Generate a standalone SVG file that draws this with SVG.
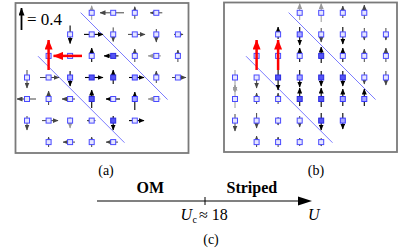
<svg xmlns="http://www.w3.org/2000/svg" width="415" height="249" viewBox="0 0 415 249">
<style>
.frame{fill:none;stroke:#7a7a7a;stroke-width:1.8}
.dl{stroke:#5a5aff;stroke-width:0.8}
.k{stroke:#000;stroke-width:1.1;marker-end:url(#hk)}
.d{stroke:#454545;stroke-width:1;marker-end:url(#hd)}
.g{stroke:#9a9a9a;stroke-width:1;marker-end:url(#hg)}
.r{stroke:#ff0000;stroke-width:2.5;marker-end:url(#hr)}
.s{fill:#e6e6ff;stroke:#4a4aff;stroke-width:1}
.m{fill:#a8a8ff;stroke:#3838ff;stroke-width:1}
.x{fill:#5555f5;stroke:#2a2ae0;stroke-width:1}
text{font-family:"Liberation Serif","Times New Roman",serif;fill:#000}
</style>
<defs>
<marker id="hk" markerUnits="userSpaceOnUse" markerWidth="6" markerHeight="5" viewBox="0 0 6 5" refX="5.5" refY="2.5" orient="auto"><path d="M0,0 L6,2.5 L0,5 z" fill="#000"/></marker>
<marker id="hd" markerUnits="userSpaceOnUse" markerWidth="6" markerHeight="5" viewBox="0 0 6 5" refX="5.5" refY="2.5" orient="auto"><path d="M0,0 L6,2.5 L0,5 z" fill="#454545"/></marker>
<marker id="hg" markerUnits="userSpaceOnUse" markerWidth="6" markerHeight="5" viewBox="0 0 6 5" refX="5.5" refY="2.5" orient="auto"><path d="M0,0 L6,2.5 L0,5 z" fill="#9a9a9a"/></marker>
<marker id="hr" markerUnits="userSpaceOnUse" markerWidth="10" markerHeight="8" viewBox="0 0 10 8" refX="9.5" refY="4" orient="auto"><path d="M0,0 L10,4 L0,8 z" fill="#ff0000"/></marker>
<marker id="hl" markerUnits="userSpaceOnUse" markerWidth="8" markerHeight="6" viewBox="0 0 8 6" refX="7.5" refY="3" orient="auto"><path d="M0,0 L8,3 L0,6 z" fill="#000"/></marker>
</defs>

<g id="panel-a">
<rect class="frame" x="15.5" y="3" width="173" height="150"/>
<g id="legend-a">
<line x1="21.5" y1="30" x2="21.5" y2="8" stroke="#000" stroke-width="1.8" marker-end="url(#hl)"/>
<text x="27" y="25" font-size="17">= 0.4</text>
</g>
<g id="lines-a">
<line class="dl" x1="80.6" y1="12.6" x2="167.6" y2="99.6"/>
<line class="dl" x1="38" y1="56.2" x2="124.5" y2="142.7"/>
</g>
<g id="arrows-a">
<line class="g" x1="91.7" y1="19.8" x2="91.7" y2="5.8"/>
<line class="d" x1="124" y1="12.8" x2="100" y2="12.8"/>
<line class="d" x1="134.8" y1="18.8" x2="134.8" y2="6.8"/>
<line class="d" x1="162.3" y1="12.8" x2="150.3" y2="12.8"/>
<line class="k" x1="70.1" y1="25.4" x2="70.1" y2="43.4"/>
<line class="k" x1="84" y1="34.4" x2="103" y2="34.4"/>
<line class="d" x1="113.2" y1="27.4" x2="113.2" y2="41.4"/>
<line class="d" x1="128" y1="34.4" x2="145" y2="34.4"/>
<line class="d" x1="156.3" y1="29" x2="156.3" y2="42"/>
<line class="d" x1="174" y1="34.4" x2="183" y2="34.4"/>
<line class="k" x1="91.7" y1="62" x2="91.7" y2="48"/>
<line class="k" x1="118.5" y1="55.9" x2="104" y2="55.9"/>
<line class="d" x1="134.8" y1="62" x2="134.8" y2="49"/>
<line class="g" x1="161" y1="55.9" x2="148" y2="55.9"/>
<line class="d" x1="177.9" y1="62" x2="177.9" y2="50"/>
<line class="d" x1="27" y1="70" x2="27" y2="88"/>
<line class="d" x1="40" y1="77.5" x2="59" y2="77.5"/>
<line class="k" x1="70.1" y1="71" x2="70.1" y2="86"/>
<line class="k" x1="85" y1="77.5" x2="103" y2="77.5"/>
<line class="k" x1="113.2" y1="84" x2="113.2" y2="70"/>
<line class="k" x1="129" y1="77.5" x2="144" y2="77.5"/>
<line class="d" x1="156.3" y1="83" x2="156.3" y2="71"/>
<line class="d" x1="172" y1="77.5" x2="186" y2="77.5"/>
<line class="d" x1="36" y1="99" x2="17" y2="99"/>
<line class="d" x1="48.6" y1="105" x2="48.6" y2="91"/>
<line class="d" x1="75" y1="99" x2="62" y2="99"/>
<line class="k" x1="91.7" y1="108" x2="91.7" y2="90"/>
<line class="k" x1="120" y1="99" x2="106" y2="99"/>
<line class="k" x1="134.8" y1="110" x2="134.8" y2="92"/>
<line class="g" x1="160.5" y1="99" x2="148" y2="99"/>
<line class="d" x1="27" y1="116" x2="27" y2="130"/>
<line class="d" x1="42" y1="120.6" x2="58" y2="120.6"/>
<line class="g" x1="70.1" y1="117" x2="70.1" y2="128"/>
<line class="d" x1="95.5" y1="120.6" x2="87" y2="120.6"/>
<line class="k" x1="113.2" y1="116" x2="113.2" y2="130"/>
<line class="k" x1="129" y1="120.6" x2="144" y2="120.6"/>
<line class="d" x1="48.6" y1="147" x2="48.6" y2="137"/>
<line class="d" x1="75" y1="142.1" x2="63" y2="142.1"/>
<line class="d" x1="91.7" y1="147" x2="91.7" y2="137"/>
<line class="d" x1="118" y1="142.1" x2="106" y2="142.1"/>
</g>
<g id="sites-a">
<rect class="s" x="89.2" y="10.3" width="5" height="5"/>
<rect class="s" x="110.7" y="10.3" width="5" height="5"/>
<rect class="s" x="132.3" y="10.3" width="5" height="5"/>
<rect class="s" x="153.8" y="10.3" width="5" height="5"/>
<rect class="s" x="67.6" y="31.9" width="5" height="5"/>
<rect class="s" x="89.2" y="31.9" width="5" height="5"/>
<rect class="s" x="110.7" y="31.9" width="5" height="5"/>
<rect class="s" x="132.3" y="31.9" width="5" height="5"/>
<rect class="s" x="153.8" y="31.9" width="5" height="5"/>
<rect class="s" x="175.4" y="31.9" width="5" height="5"/>
<rect class="s" x="46.1" y="53.4" width="5" height="5"/>
<rect class="s" x="67.6" y="53.4" width="5" height="5"/>
<rect class="s" x="89.2" y="53.4" width="5" height="5"/>
<rect class="x" x="110.7" y="53.4" width="5" height="5"/>
<rect class="s" x="132.3" y="53.4" width="5" height="5"/>
<rect class="s" x="153.8" y="53.4" width="5" height="5"/>
<rect class="s" x="175.4" y="53.4" width="5" height="5"/>
<rect class="s" x="24.5" y="75" width="5" height="5"/>
<rect class="s" x="46.1" y="75" width="5" height="5"/>
<rect class="m" x="67.6" y="75" width="5" height="5"/>
<rect class="x" x="89.2" y="75" width="5" height="5"/>
<rect class="x" x="110.7" y="75" width="5" height="5"/>
<rect class="m" x="132.3" y="75" width="5" height="5"/>
<rect class="s" x="153.8" y="75" width="5" height="5"/>
<rect class="s" x="175.4" y="75" width="5" height="5"/>
<rect class="s" x="24.5" y="96.5" width="5" height="5"/>
<rect class="s" x="46.1" y="96.5" width="5" height="5"/>
<rect class="s" x="67.6" y="96.5" width="5" height="5"/>
<rect class="x" x="89.2" y="96.5" width="5" height="5"/>
<rect class="s" x="110.7" y="96.5" width="5" height="5"/>
<rect class="m" x="132.3" y="96.5" width="5" height="5"/>
<rect class="s" x="153.8" y="96.5" width="5" height="5"/>
<rect class="s" x="24.5" y="118.1" width="5" height="5"/>
<rect class="s" x="46.1" y="118.1" width="5" height="5"/>
<rect class="s" x="67.6" y="118.1" width="5" height="5"/>
<rect class="s" x="89.2" y="118.1" width="5" height="5"/>
<rect class="x" x="110.7" y="118.1" width="5" height="5"/>
<rect class="s" x="132.3" y="118.1" width="5" height="5"/>
<rect class="s" x="46.1" y="139.6" width="5" height="5"/>
<rect class="s" x="67.6" y="139.6" width="5" height="5"/>
<rect class="s" x="89.2" y="139.6" width="5" height="5"/>
<rect class="s" x="110.7" y="139.6" width="5" height="5"/>
</g>
<g id="red-a">
<line class="r" x1="48.6" y1="70" x2="48.6" y2="40"/>
<line class="r" x1="82" y1="55.9" x2="53.5" y2="55.9"/>
</g>
<text x="106" y="175" font-size="14" text-anchor="middle">(a)</text>
</g>

<g id="panel-b">
<rect class="frame" x="224" y="2.5" width="173" height="149.5"/>
<g id="lines-b">
<line class="dl" x1="288.6" y1="12.6" x2="375.6" y2="99.6"/>
<line class="dl" x1="246" y1="56.2" x2="332.5" y2="142.7"/>
</g>
<g id="arrows-b">
<line class="g" x1="299.7" y1="20" x2="299.7" y2="3.5"/>
<line class="g" x1="321.2" y1="22" x2="321.2" y2="3.5"/>
<line class="d" x1="342.8" y1="18" x2="342.8" y2="6"/>
<line class="d" x1="364.3" y1="19" x2="364.3" y2="5"/>
<line class="k" x1="278.1" y1="39" x2="278.1" y2="27"/>
<line class="k" x1="299.7" y1="27" x2="299.7" y2="45"/>
<line class="d" x1="321.2" y1="28" x2="321.2" y2="42"/>
<line class="k" x1="342.8" y1="27" x2="342.8" y2="44"/>
<line class="d" x1="364.3" y1="28" x2="364.3" y2="40"/>
<line class="d" x1="385.9" y1="28" x2="385.9" y2="40"/>
<line class="k" x1="299.7" y1="62" x2="299.7" y2="48"/>
<line class="k" x1="321.2" y1="63" x2="321.2" y2="47"/>
<line class="k" x1="342.8" y1="62" x2="342.8" y2="48"/>
<line class="d" x1="364.3" y1="62" x2="364.3" y2="49"/>
<line class="d" x1="385.9" y1="62" x2="385.9" y2="48"/>
<line class="g" x1="235" y1="70" x2="235" y2="92"/>
<line class="d" x1="256.6" y1="75" x2="256.6" y2="88"/>
<line class="k" x1="278.1" y1="70" x2="278.1" y2="90"/>
<line class="k" x1="299.7" y1="70" x2="299.7" y2="87"/>
<line class="k" x1="321.2" y1="71" x2="321.2" y2="86"/>
<line class="k" x1="342.8" y1="71" x2="342.8" y2="86"/>
<line class="d" x1="364.3" y1="72" x2="364.3" y2="84"/>
<line class="d" x1="385.9" y1="71" x2="385.9" y2="85"/>
<line class="g" x1="235" y1="108" x2="235" y2="85"/>
<line class="d" x1="256.6" y1="104" x2="256.6" y2="93"/>
<line class="d" x1="278.1" y1="104" x2="278.1" y2="93"/>
<line class="k" x1="299.7" y1="106" x2="299.7" y2="88"/>
<line class="k" x1="321.2" y1="107" x2="321.2" y2="88"/>
<line class="k" x1="342.8" y1="106" x2="342.8" y2="89"/>
<line class="k" x1="364.3" y1="106" x2="364.3" y2="89"/>
<line class="d" x1="235" y1="114" x2="235" y2="131"/>
<line class="d" x1="256.6" y1="113" x2="256.6" y2="128"/>
<line class="d" x1="278.1" y1="117" x2="278.1" y2="125"/>
<line class="d" x1="299.7" y1="116" x2="299.7" y2="127"/>
<line class="k" x1="321.2" y1="113" x2="321.2" y2="130"/>
<line class="k" x1="342.8" y1="113" x2="342.8" y2="129"/>
<line class="d" x1="256.6" y1="147" x2="256.6" y2="136"/>
<line class="d" x1="278.1" y1="147" x2="278.1" y2="137"/>
<line class="d" x1="299.7" y1="146" x2="299.7" y2="138"/>
<line class="d" x1="321.2" y1="138" x2="321.2" y2="146"/>
</g>
<g id="sites-b">
<rect class="s" x="297.2" y="10.3" width="5" height="5"/>
<rect class="s" x="318.7" y="10.3" width="5" height="5"/>
<rect class="s" x="340.3" y="10.3" width="5" height="5"/>
<rect class="s" x="361.8" y="10.3" width="5" height="5"/>
<rect class="s" x="275.6" y="31.9" width="5" height="5"/>
<rect class="m" x="297.2" y="31.9" width="5" height="5"/>
<rect class="s" x="318.7" y="31.9" width="5" height="5"/>
<rect class="s" x="340.3" y="31.9" width="5" height="5"/>
<rect class="s" x="361.8" y="31.9" width="5" height="5"/>
<rect class="s" x="383.4" y="31.9" width="5" height="5"/>
<rect class="s" x="254.1" y="53.4" width="5" height="5"/>
<rect class="s" x="275.6" y="53.4" width="5" height="5"/>
<rect class="s" x="297.2" y="53.4" width="5" height="5"/>
<rect class="x" x="318.7" y="53.4" width="5" height="5"/>
<rect class="s" x="340.3" y="53.4" width="5" height="5"/>
<rect class="s" x="361.8" y="53.4" width="5" height="5"/>
<rect class="s" x="383.4" y="53.4" width="5" height="5"/>
<rect class="s" x="232.5" y="75" width="5" height="5"/>
<rect class="s" x="254.1" y="75" width="5" height="5"/>
<rect class="x" x="275.6" y="75" width="5" height="5"/>
<rect class="m" x="297.2" y="75" width="5" height="5"/>
<rect class="x" x="318.7" y="75" width="5" height="5"/>
<rect class="x" x="340.3" y="75" width="5" height="5"/>
<rect class="s" x="361.8" y="75" width="5" height="5"/>
<rect class="s" x="383.4" y="75" width="5" height="5"/>
<rect class="s" x="232.5" y="96.5" width="5" height="5"/>
<rect class="s" x="254.1" y="96.5" width="5" height="5"/>
<rect class="s" x="275.6" y="96.5" width="5" height="5"/>
<rect class="x" x="297.2" y="96.5" width="5" height="5"/>
<rect class="x" x="318.7" y="96.5" width="5" height="5"/>
<rect class="m" x="340.3" y="96.5" width="5" height="5"/>
<rect class="m" x="361.8" y="96.5" width="5" height="5"/>
<rect class="s" x="232.5" y="118.1" width="5" height="5"/>
<rect class="s" x="254.1" y="118.1" width="5" height="5"/>
<rect class="s" x="275.6" y="118.1" width="5" height="5"/>
<rect class="s" x="297.2" y="118.1" width="5" height="5"/>
<rect class="x" x="318.7" y="118.1" width="5" height="5"/>
<rect class="m" x="340.3" y="118.1" width="5" height="5"/>
<rect class="s" x="254.1" y="139.6" width="5" height="5"/>
<rect class="s" x="275.6" y="139.6" width="5" height="5"/>
<rect class="s" x="297.2" y="139.6" width="5" height="5"/>
<rect class="s" x="318.7" y="139.6" width="5" height="5"/>
</g>
<g id="red-b">
<line class="r" x1="256.6" y1="70" x2="256.6" y2="40"/>
<line class="r" x1="278.1" y1="70" x2="278.1" y2="40"/>
</g>
<text x="316" y="175" font-size="14" text-anchor="middle">(b)</text>
</g>

<g id="axis-c">
<line x1="97" y1="201" x2="299" y2="201" stroke="#808080" stroke-width="2"/>
<path d="M298,196.5 L312,201 L298,205.5 z" fill="#000"/>
<line x1="205" y1="197" x2="205" y2="205" stroke="#000" stroke-width="1"/>
<text x="136.5" y="193" font-size="16" font-weight="bold">OM</text>
<text x="226.5" y="193" font-size="16" font-weight="bold">Striped</text>
<text y="220" font-size="16"><tspan x="180.5" font-style="italic">U</tspan><tspan x="192.5" y="223" font-size="10">c</tspan><tspan x="199" y="220">≈ 18</tspan></text>
<text x="308" y="220" font-size="16" font-style="italic">U</text>
<text x="211" y="244" font-size="14" text-anchor="middle">(c)</text>
</g>
</svg>
